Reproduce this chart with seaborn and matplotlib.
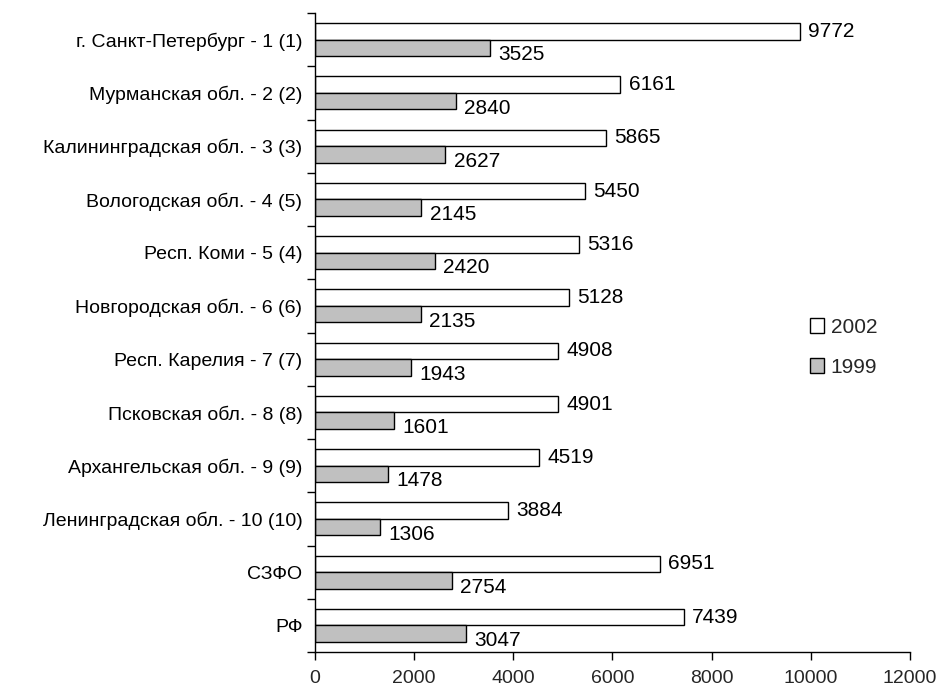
import numpy as np
import pandas as pd
import matplotlib
matplotlib.use("Agg")
import matplotlib.pyplot as plt
from matplotlib.patches import Patch
from matplotlib.ticker import FixedLocator
import seaborn as sns

regions = [
    "г. Санкт-Петербург - 1 (1)",
    "Мурманская обл. - 2 (2)",
    "Калининградская обл. - 3 (3)",
    "Вологодская обл. - 4 (5)",
    "Респ. Коми - 5 (4)",
    "Новгородская обл. - 6 (6)",
    "Респ. Карелия - 7 (7)",
    "Псковская обл. - 8 (8)",
    "Архангельская обл. - 9 (9)",
    "Ленинградская обл. - 10 (10)",
    "СЗФО",
    "РФ",
]
values_2002 = [9772, 6161, 5865, 5450, 5316, 5128, 4908, 4901, 4519, 3884, 6951, 7439]
values_1999 = [3525, 2840, 2627, 2145, 2420, 2135, 1943, 1601, 1478, 1306, 2754, 3047]
years = ["2002", "1999"]
colors = ["white", "#c0c0c0"]

df = pd.concat([
    pd.DataFrame({"region": regions, "value": values_2002, "year": "2002"}),
    pd.DataFrame({"region": regions, "value": values_1999, "year": "1999"}),
])

sns.set_style("white")
plt.rcParams["font.family"] = ["Liberation Sans", "DejaVu Sans"]

fig = plt.figure(figsize=(9.43, 6.91), dpi=100)
ax = fig.add_axes([0.334, 0.0564, 0.631, 0.9246])

sns.barplot(data=df, y="region", x="value", hue="year", hue_order=years,
            order=regions, palette=colors, orient="h", width=0.62,
            edgecolor="black", linewidth=1, ax=ax, legend=False)

# value labels (1999 ones sit a bit lower)
for cont, dy in zip(ax.containers, [0, -5]):
    for bar in cont:
        w = bar.get_width()
        yc = bar.get_y() + bar.get_height() / 2
        ax.annotate(f"{int(w)}", xy=(w, yc), xytext=(6, dy),
                    textcoords="offset points", ha="left", va="center",
                    fontsize=15, color="black")

ax.set_xlim(0, 12000)
ax.set_ylim(len(regions) - 0.5, -0.5)
ax.set_xticks(np.arange(0, 12001, 2000))
ax.set_xlabel("")
ax.set_ylabel("")

ax.yaxis.set_minor_locator(FixedLocator(np.arange(-0.5, len(regions), 1)))
ax.tick_params(axis="y", which="major", length=0, labelsize=14, pad=9, colors="black")
ax.tick_params(axis="y", which="minor", length=6, width=1, color="black", left=True)
ax.tick_params(axis="x", which="major", length=6, width=1, color="black",
               labelsize=14, pad=7, bottom=True)

sns.despine(ax=ax)
for s in ["left", "bottom"]:
    ax.spines[s].set_color("black")
    ax.spines[s].set_linewidth(1)

handles = [Patch(facecolor=c, edgecolor="black", linewidth=1) for c in colors]
ax.legend(handles, years, loc="center left", bbox_to_anchor=(0.80, 0.477),
          frameon=False, fontsize=15, handlelength=0.7, handleheight=0.7,
          handletextpad=0.3, labelspacing=1.0)

fig.savefig("out.png", dpi=100)
